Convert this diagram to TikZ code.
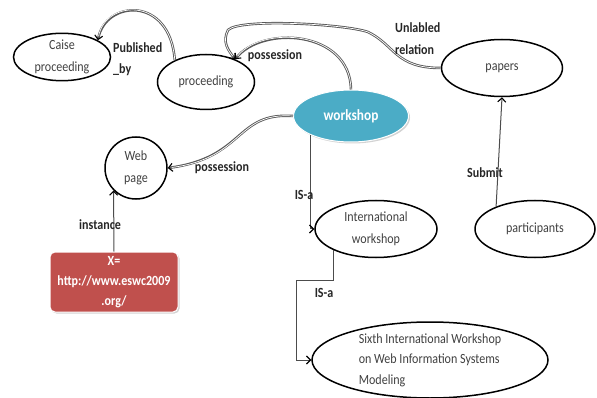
\documentclass[tikz,border=0pt]{standalone}
\usepackage{fontspec}
\setmainfont{Carlito}[FakeStretch=0.86]
\usetikzlibrary{shapes.geometric,arrows.meta,shadows}
\definecolor{wsblue}{HTML}{4BACC6}
\definecolor{xred}{HTML}{C0504D}
\begin{document}
\begin{tikzpicture}[x=1pt,y=-1pt,
  ent/.style={ellipse, draw=black, line width=1.5pt, inner sep=0pt, align=center,
    text=black!75, font=\fontsize{14}{21.5}\selectfont},
  lbl/.style={font=\bfseries\fontsize{14}{21.5}\selectfont, text=black!85, inner sep=0pt, align=left},
  tipa/.style={-{Straight Barb[length=4pt,width=8pt,line width=1.1pt,color=black]}},
  sline/.style={draw=black!70, line width=1pt, tipa},
  dline/.style={draw=white, line width=0.7pt, shorten >=4pt,
    preaction={draw=black!65, line width=2.5pt, shorten >=0pt, tipa}},
  shad/.style={drop shadow={shadow xshift=1.5pt, shadow yshift=-1.5pt, opacity=0.35}}
]
\useasboundingbox (0,0) rectangle (597,398);

% nodes
\node[ent, minimum width=97pt, minimum height=41pt] (caise) at (62,57) {Caise\\proceeding};
\node[ent, minimum width=97pt, minimum height=55pt] (proc) at (206,82) {proceeding};
\node[ellipse, fill=wsblue, draw=white, line width=1pt, minimum width=115pt, minimum height=52pt,
  inner sep=0pt, text=white, font=\bfseries\fontsize{15.5}{18}\selectfont, shad] (ws) at (351,116) {workshop};
\node[ent, minimum width=121pt, minimum height=57pt] (papers) at (502,68) {papers};
\node[ent, circle, minimum size=62pt] (web) at (136,168) {Web\\page};
\node[rectangle, rounded corners=5pt, fill=xred, draw=white, line width=1pt, minimum width=128pt,
  minimum height=60pt, inner sep=0pt, text=white, align=center,
  font=\bfseries\fontsize{14}{20}\selectfont, shad] (xbox) at (114,282) {X=\\http://www.eswc2009\\.org/};
\node[ent, minimum width=122pt, minimum height=57pt] (intl) at (376,229) {International\\workshop};
\node[ent, minimum width=120pt, minimum height=57pt] (part) at (535,229) {participants};
\node[ent, minimum width=236pt, minimum height=76pt, align=left, font=\fontsize{14}{20.5}\selectfont] (sixth) at (430,360)
  {Sixth International Workshop\\on Web Information Systems\\Modeling};

% connectors
\draw[dline] (proc.145) .. controls (170,-5) and (105,0) .. (caise.25);
\draw[dline] (ws.north) .. controls (350,30) and (262,25) .. (proc.38);
\draw[dline] (papers.west) .. controls (395,68) and (395,45) .. (368,32)
  .. controls (345,24) and (240,18) .. (228,30)
  .. controls (222,42) and (228,50) .. (proc.38);
\draw[dline] (ws.west) .. controls (235,112) and (245,158) .. (web.east);
\draw[sline] (xbox.north) -- (web.-135);
\draw[sline] (ws.-155) |- (intl.west);
\draw[sline] (intl.-153) -- ++(0,30) -| ([xshift=-15pt]sixth.west) -- (sixth.west);
\draw[sline] (part.150) -- (papers.south);

% labels
\node[lbl, anchor=west] (lpub) at (113,59) {Published\\\_by};
\node[lbl, anchor=west] (lunl) at (395,38.5) {Unlabled\\relation};
\node[lbl] (lpos1) at (275,56) {possession};
\node[lbl] (lpos2) at (222,168) {possession};
\node[lbl] (linst) at (100,225) {instance};
\node[lbl] (lisa1) at (304,195) {IS-a};
\node[lbl] (lisa2) at (324,293) {IS-a};
\node[lbl] (lsub) at (485,173) {Submit};
\end{tikzpicture}
\end{document}
